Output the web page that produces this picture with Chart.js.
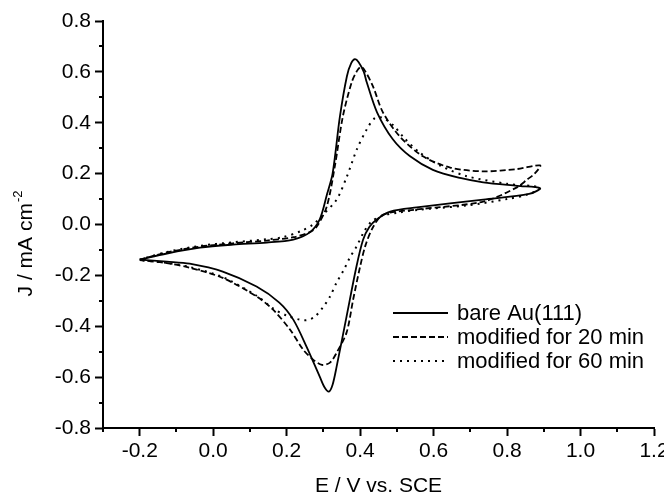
<!DOCTYPE html>
<html>
<head>
<meta charset="utf-8">
<script src="https://cdn.jsdelivr.net/npm/chart.js@4"></script>
<style>
    html, body { margin: 0; padding: 0; background: #fff; }
    canvas { display: block; }
</style>
</head>
<body>
<canvas id="cv" width="664" height="499"></canvas>
<script>
// cyclic voltammograms, E in V vs SCE, J in mA cm-2
const bareE = [-0.2, -0.126, -0.036, 0.054, 0.146, 0.218, 0.263, 0.29, 0.31, 0.325, 0.345, 0.364, 0.376, 0.386, 0.396, 0.41, 0.418, 0.446, 0.489, 0.536, 0.598, 0.672, 0.735, 0.827, 0.89,
    0.86, 0.735, 0.554, 0.482, 0.445, 0.425, 0.408, 0.39, 0.363, 0.336, 0.325, 0.315, 0.303, 0.29, 0.254, 0.218, 0.18, 0.118, 0.026, -0.064, -0.126, -0.2];
const bareJ = [-0.138, -0.114, -0.091, -0.079, -0.071, -0.059, -0.031, 0.02, 0.12, 0.2, 0.425, 0.583, 0.635, 0.65, 0.638, 0.6, 0.559, 0.441, 0.335, 0.268, 0.215, 0.183, 0.166, 0.152, 0.143,
    0.12, 0.098, 0.067, 0.051, 0.02, -0.01, -0.06, -0.165, -0.362, -0.559, -0.63, -0.657, -0.64, -0.598, -0.48, -0.374, -0.307, -0.244, -0.185, -0.154, -0.146, -0.138];

const min20E = [-0.2, -0.126, -0.036, 0.054, 0.146, 0.218, 0.263, 0.282, 0.309, 0.331, 0.353, 0.377, 0.392, 0.403, 0.415, 0.435, 0.462, 0.508, 0.571, 0.645, 0.735, 0.827, 0.89,
    0.875, 0.855, 0.827, 0.735, 0.554, 0.463, 0.436, 0.415, 0.4, 0.381, 0.363, 0.336, 0.318, 0.296, 0.272, 0.245, 0.209, 0.163, 0.118, 0.026, -0.064, -0.126, -0.2];
const min20J = [-0.138, -0.11, -0.087, -0.074, -0.063, -0.05, -0.03, -0.008, 0.07, 0.228, 0.425, 0.559, 0.605, 0.62, 0.6, 0.543, 0.441, 0.346, 0.268, 0.224, 0.209, 0.218, 0.232,
    0.2, 0.177, 0.146, 0.09, 0.059, 0.039, -0.008, -0.08, -0.165, -0.295, -0.425, -0.504, -0.543, -0.552, -0.531, -0.492, -0.413, -0.335, -0.283, -0.21, -0.17, -0.152, -0.14];

const min60E = [-0.2, -0.126, -0.036, 0.054, 0.146, 0.19, 0.24, 0.272, 0.3, 0.336, 0.364, 0.391, 0.418, 0.44, 0.46, 0.49, 0.52, 0.56, 0.62, 0.69, 0.8, 0.89,
    0.86, 0.8, 0.69, 0.56, 0.5, 0.46, 0.43, 0.41, 0.39, 0.372, 0.355, 0.336, 0.318, 0.3, 0.277, 0.255, 0.235, 0.2, 0.163, 0.118, 0.026, -0.064, -0.126, -0.2];
const min60J = [-0.138, -0.108, -0.084, -0.07, -0.058, -0.05, -0.025, 0.0, 0.04, 0.098, 0.189, 0.295, 0.374, 0.418, 0.42, 0.39, 0.34, 0.285, 0.23, 0.19, 0.16, 0.145,
    0.12, 0.1, 0.075, 0.058, 0.046, 0.035, 0.01, -0.03, -0.087, -0.13, -0.18, -0.228, -0.283, -0.323, -0.362, -0.376, -0.374, -0.358, -0.33, -0.28, -0.207, -0.167, -0.151, -0.14];

const seriesNames = ['bare Au(111)', 'modified for 20 min', 'modified for 60 min'];
const xRange = [-0.3, 1.2];
const yRange = [-0.8, 0.8];

const FONT = 'Liberation Sans, Arial, sans-serif';
const toPts = (xs, ys) => xs.map((x, i) => ({ x: x, y: ys[i] }));
const isMinor = v => Math.abs(Math.round(v * 10)) % 2 === 1;
const fmt = v => {
    const n = Math.round(v * 10);
    if (n % 2 !== 0) return '';
    return (n / 10).toFixed(1);
};

function line(ctx, x1, y1, x2, y2) {
    ctx.beginPath();
    ctx.moveTo(x1, y1);
    ctx.lineTo(x2, y2);
    ctx.stroke();
}

// minor ticks, y title with superscript, legend inside the plot
const overlay = {
    id: 'overlay',
    afterDraw(chart) {
        const ctx = chart.ctx;
        const area = chart.chartArea;
        const xs = chart.scales.x, ys = chart.scales.y;
        ctx.save();
        ctx.strokeStyle = '#000';
        ctx.lineWidth = 2;
        xs.ticks.forEach(t => {
            if (!isMinor(t.value)) return;
            const px = Math.round(xs.getPixelForValue(t.value));
            line(ctx, px, area.bottom, px, area.bottom + 4);
        });
        ys.ticks.forEach(t => {
            if (!isMinor(t.value)) return;
            const py = Math.round(ys.getPixelForValue(t.value));
            line(ctx, area.left - 4, py, area.left, py);
        });

        // y title
        ctx.fillStyle = '#000';
        ctx.textBaseline = 'alphabetic';
        ctx.textAlign = 'left';
        ctx.translate(32, 244);
        ctx.rotate(-Math.PI / 2);
        ctx.font = '21px ' + FONT;
        const main = 'J / mA cm';
        const wMain = ctx.measureText(main).width;
        ctx.font = '13px ' + FONT;
        const wSup = ctx.measureText('-2').width;
        const start = -(wMain + wSup) / 2;
        ctx.font = '21px ' + FONT;
        ctx.fillText(main, start, 0);
        ctx.font = '13px ' + FONT;
        ctx.fillText('-2', start + wMain + 1, -10);
        ctx.setTransform(1, 0, 0, 1, 0, 0);

        // legend
        ctx.font = '22px ' + FONT;
        ctx.textBaseline = 'middle';
        chart.data.datasets.forEach((ds, i) => {
            const yy = 313 + i * 24;
            ctx.lineWidth = ds.borderWidth;
            ctx.setLineDash(ds.borderDash);
            line(ctx, 393, yy, 448, yy);
            ctx.setLineDash([]);
            ctx.fillText(ds.label, 457, yy + 1);
        });
        ctx.restore();
    }
};

const mkSet = (label, xs, ys, dash, w) => ({
    label: label,
    data: toPts(xs, ys),
    showLine: true,
    borderColor: '#000',
    borderWidth: w,
    borderDash: dash,
    pointRadius: 0,
    tension: 0.3,
    fill: false,
});

new Chart(document.getElementById('cv'), {
    type: 'scatter',
    data: {
        datasets: [
            mkSet(seriesNames[0], bareE, bareJ, [], 1.8),
            mkSet(seriesNames[1], min20E, min20J, [6, 3], 1.8),
            mkSet(seriesNames[2], min60E, min60J, [2, 5], 2),
        ],
    },
    options: {
        responsive: false,
        animation: false,
        layout: { padding: { left: 0, right: 10, top: 21, bottom: 0 } },
        plugins: { legend: { display: false }, tooltip: { enabled: false } },
        scales: {
            x: {
                type: 'linear',
                min: xRange[0],
                max: xRange[1],
                afterFit: s => { s.height = 71; s.paddingLeft = 0; s.paddingRight = 0; },
                grid: {
                    drawOnChartArea: false,
                    drawTicks: true,
                    tickLength: 8,
                    tickWidth: 2,
                    tickColor: c => isMinor(c.tick.value) ? 'rgba(0,0,0,0)' : '#000',
                },
                border: { display: true, color: '#000', width: 2 },
                ticks: {
                    stepSize: 0.1,
                    autoSkip: false,
                    maxRotation: 0,
                    padding: 3,
                    color: '#000',
                    font: { family: FONT, size: 21 },
                    callback: v => fmt(v),
                },
                title: {
                    display: true,
                    text: 'E / V vs. SCE',
                    color: '#000',
                    font: { family: FONT, size: 21 },
                    padding: { top: 6, bottom: 0 },
                },
            },
            y: {
                type: 'linear',
                min: yRange[0],
                max: yRange[1],
                afterFit: s => { s.width = 103; s.paddingTop = 0; s.paddingBottom = 0; },
                grid: {
                    drawOnChartArea: false,
                    drawTicks: true,
                    tickLength: 8,
                    tickWidth: 2,
                    tickColor: c => isMinor(c.tick.value) ? 'rgba(0,0,0,0)' : '#000',
                },
                border: { display: true, color: '#000', width: 2 },
                ticks: {
                    stepSize: 0.1,
                    autoSkip: false,
                    padding: 4,
                    color: '#000',
                    font: { family: FONT, size: 21 },
                    callback: v => fmt(v),
                },
            },
        },
    },
    plugins: [overlay],
});
</script>
</body>
</html>
